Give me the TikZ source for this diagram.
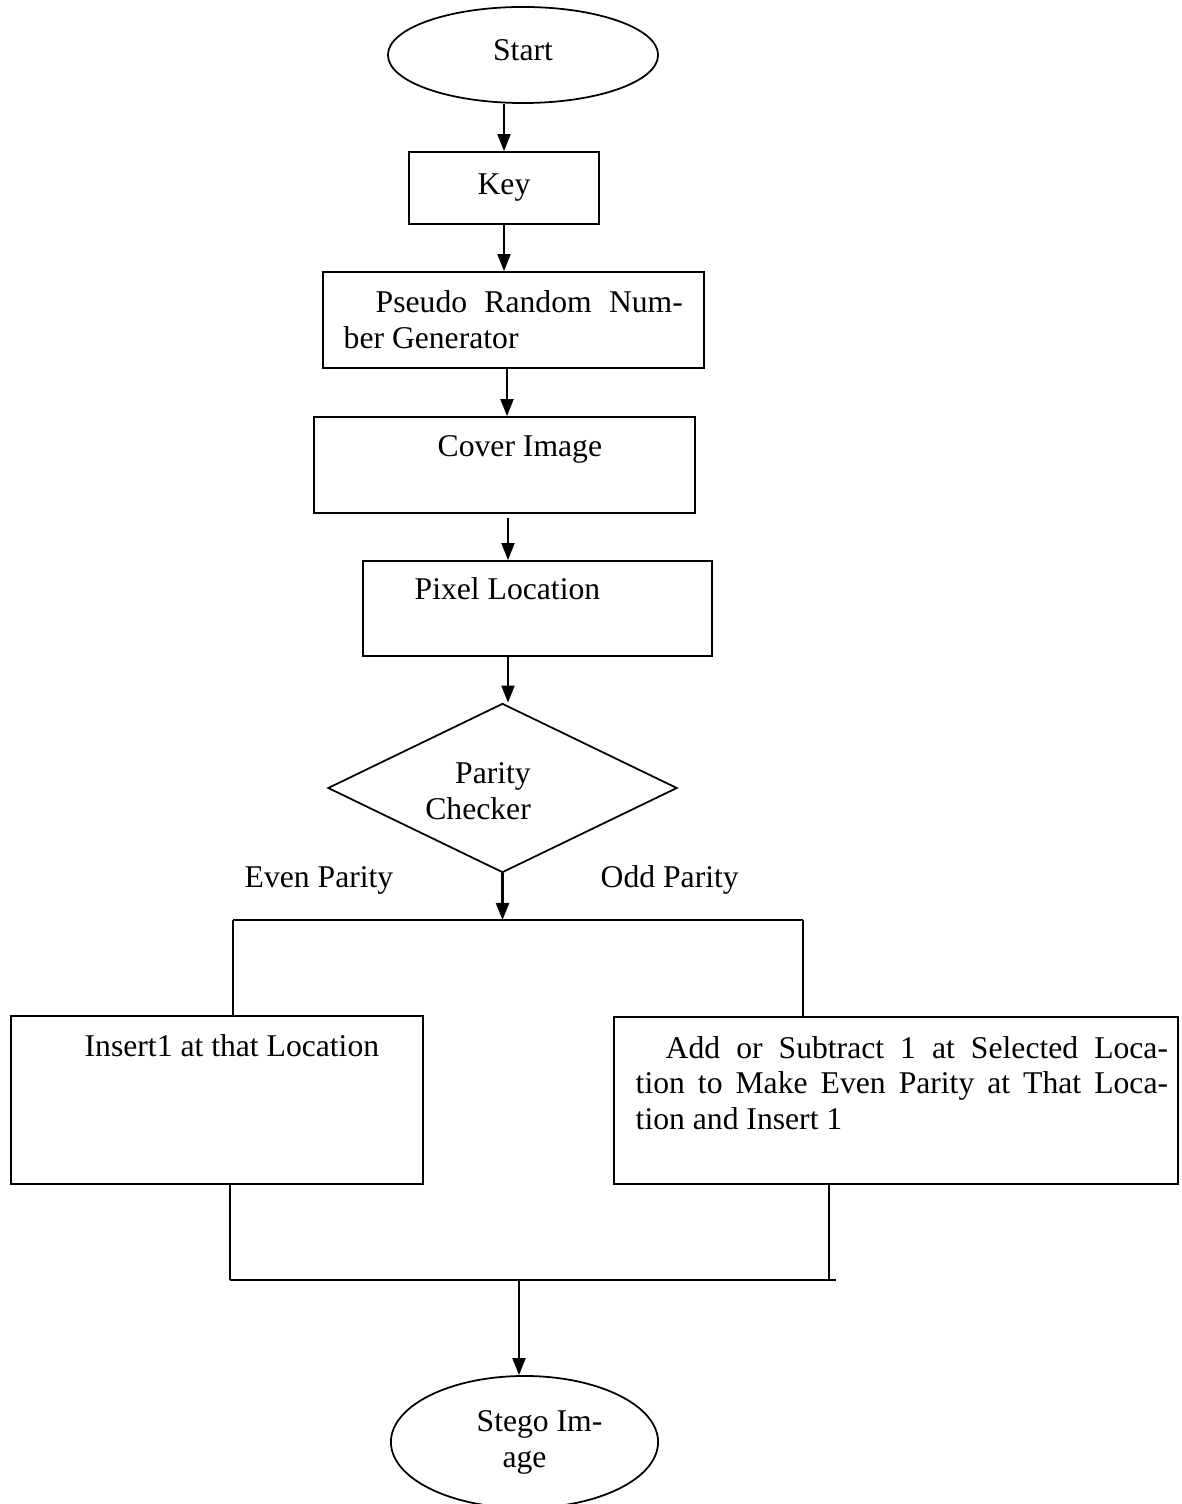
\documentclass[tikz,border=0pt]{standalone}
\usepackage{fontspec}
\setmainfont{Liberation Serif}
\usepackage{tikz}
\usetikzlibrary{shapes.geometric}
\usetikzlibrary {arrows.meta}
\tolerance=10000
\tikzset{flowbox/.style={rectangle,draw=black,fill=white,
line width=0.5pt,inner sep=0pt}}
\tikzset{flowterm/.style={ellipse,draw=black,fill=white,
line width=0.5pt,inner sep=0pt}}
\tikzset{flowcheck/.style={diamond,aspect=2,draw=black,fill=white,
line width=0.5pt,inner sep=0pt}}
\tikzset{flowtext/.style={rectangle,draw=none,
inner sep=0pt,anchor=base west}}
\tikzset{flowline/.style={line width=0.5pt}}
\tikzset{flowarrow/.style={line width=0.6pt,-{Triangle[length=1.7mm,width=1.3mm]}}}

\begin{document}
\begin{tikzpicture}[x=0.01cm,y=-0.01cm,font=\fontsize{9}{10.2}\selectfont]
    \useasboundingbox (0,0) rectangle (1181,1504);

        \node[flowterm, minimum width=2.70cm, minimum height=0.96cm, text depth=0.1cm] (boxStart) at (523,55) {Start};
        \node[flowbox, minimum width=1.90cm, minimum height=0.72cm] (boxKey) at (504,188) {Key};

        \node[flowbox, minimum width=3.81cm, minimum height=0.96cm] (boxPrng) at (513.5,320) {};
        \node[flowtext, text width=3.39cm, align=justify] (boxPrngtxt) at (343,313) {\hspace*{0.32cm}Pseudo Random Num-\linebreak ber Generator};

        \node[flowbox, minimum width=3.81cm, minimum height=0.96cm] (boxCover) at (504.5,465) {};
        \node[flowtext] (boxCovertxt) at (437,457) {Cover Image};

        \node[flowbox, minimum width=3.49cm, minimum height=0.95cm] (boxPixel) at (537.5,608.5) {};
        \node[flowtext] (boxPixeltxt) at (414,600) {Pixel Location};

        \node[flowcheck, minimum width=3.49cm, minimum height=1.69cm] (boxParity) at (502.5,788) {};
        \node[flowtext, anchor=base east, align=right] (boxParitytxt) at (531.5,819) {Parity\\Checker};

        \node[flowtext] (boxEvenlbl) at (244,887) {Even Parity};
        \node[flowtext] (boxOddlbl) at (600,887) {Odd Parity};

        \node[flowbox, minimum width=4.12cm, minimum height=1.68cm] (boxEven) at (217,1100) {};
        \node[flowtext] (boxEventxt) at (84,1056) {Insert1 at that Location};

        \node[flowbox, minimum width=5.64cm, minimum height=1.67cm] (boxOdd) at (896,1100.5) {};
        \node[flowtext, text width=5.32cm, align=justify] (boxOddtxt) at (635,1058) {\hspace*{0.30cm}Add or Subtract 1 at Selected Loca-\linebreak tion to Make Even Parity at That Loca-\linebreak tion and Insert 1};

        \node[flowterm, minimum width=2.67cm, minimum height=1.32cm, align=center] (boxStego) at (524.5,1442) {\hspace*{0.30cm}Stego Im-\\age};

        % split and join points
        \coordinate (splitEven) at (233,920);
        \coordinate (splitOdd) at (803,920);
        \coordinate (joinEven) at (230,1280);
        \coordinate (joinOdd) at (829,1280);
        \coordinate (joinEnd) at (836,1280);
        \coordinate (joinStego) at (519,1280);

        \coordinate (arrPrng) at ([xshift=0.025cm]boxCover.north);
        \coordinate (arrCover) at ([xshift=0.035cm,yshift=-0.04cm]boxCover.south);
        \coordinate (arrPixel) at ([xshift=-0.295cm]boxPixel.south);

        \draw [flowarrow] (boxKey.north |- boxStart.south) -- (boxKey.north);
        \draw [flowarrow] (boxKey.south) -- (boxKey.south |- boxPrng.north);
        \draw [flowarrow] (arrPrng |- boxPrng.south) -- (arrPrng);
        \draw [flowarrow] (arrCover) -- (arrCover |- boxPixel.north);
        \draw [flowarrow] (arrPixel) -- (arrPixel |- boxParity.north);
        \draw [flowarrow] (boxParity.south) -- (boxParity.south |- splitEven);

        \draw [flowline] (splitEven) -- (splitOdd);
        \draw [flowline] (splitEven) -- (splitEven |- boxEven.north);
        \draw [flowline] (splitOdd) -- (splitOdd |- boxOdd.north);

        \draw [flowline] (joinEven |- boxEven.south) -- (joinEven);
        \draw [flowline] (joinOdd |- boxOdd.south) -- (joinOdd);
        \draw [flowline] (joinEven) -- (joinEnd);
        \draw [flowarrow] (joinStego) -- (joinStego |- boxStego.north);

    \end{tikzpicture}
\end{document}
